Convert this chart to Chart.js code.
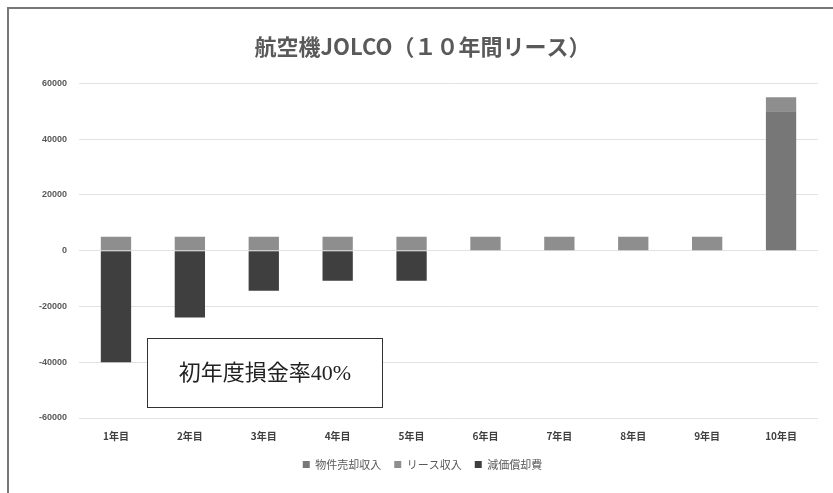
<!DOCTYPE html>
<html>
<head>
<meta charset="utf-8">
<script src="https://cdn.jsdelivr.net/npm/chart.js@4/dist/chart.umd.min.js"></script>
<style>
  html, body { margin: 0; padding: 0; background: #fff; }
  #wrap { position: relative; width: 833px; height: 493px; }
  #frame { position: absolute; left: 7px; top: 7px; right: -10px; bottom: -10px; border-left: 2px solid #777; border-top: 2px solid #777; pointer-events: none; }
</style>
</head>
<body>
<div id="wrap">
  <canvas id="leaseCanvas" width="833" height="493"></canvas>
  <div id="frame"></div>
</div>
<script>
const years = ['1年目', '2年目', '3年目', '4年目', '5年目', '6年目', '7年目', '8年目', '9年目', '10年目'];
const saleIncome = [0, 0, 0, 0, 0, 0, 0, 0, 0, 50000];
const leaseIncome = [5000, 5000, 5000, 5000, 5000, 5000, 5000, 5000, 5000, 5000];
const depreciation = [-40000, -24000, -14400, -10800, -10800, 0, 0, 0, 0, 0];
const noteText = '初年度損金率40%';

// white box with the first-year note, drawn over the plot
const noteBox = {
  id: 'noteBox',
  afterDraw(chart) {
    const ctx = chart.ctx;
    ctx.save();
    ctx.fillStyle = '#ffffff';
    ctx.fillRect(147, 338, 235, 69);
    ctx.strokeStyle = '#333333';
    ctx.lineWidth = 1;
    ctx.strokeRect(147.5, 338.5, 235, 69);
    ctx.fillStyle = '#222222';
    ctx.font = '22px "Liberation Serif", "Noto Sans CJK JP"';
    ctx.textAlign = 'center';
    ctx.textBaseline = 'middle';
    ctx.fillText(noteText, 265, 374);
    ctx.restore();
  }
};

const leaseChart = document.querySelector('#leaseCanvas').getContext('2d');

new Chart(leaseChart, {
  type: 'bar',
  data: {
    labels: years,
    datasets: [
      {
        label: '物件売却収入',
        data: saleIncome,
        backgroundColor: '#777777',
        barPercentage: 0.41,
        categoryPercentage: 1
      },
      {
        label: 'リース収入',
        data: leaseIncome,
        backgroundColor: '#8e8e8e',
        barPercentage: 0.41,
        categoryPercentage: 1
      },
      {
        label: '減価償却費',
        data: depreciation,
        backgroundColor: '#3f3f3f',
        barPercentage: 0.41,
        categoryPercentage: 1
      }
    ]
  },
  options: {
    responsive: false,
    animation: false,
    layout: {
      padding: { left: 27, right: 15, top: 21, bottom: 13 }
    },
    plugins: {
      title: {
        display: true,
        text: '航空機JOLCO（１０年間リース）',
        color: '#595959',
        font: { family: '"Noto Sans CJK JP"', size: 22, weight: 'bold' },
        padding: { top: 12, bottom: 24 }
      },
      legend: {
        display: true,
        position: 'bottom',
        labels: {
          color: '#595959',
          boxWidth: 7,
          boxHeight: 7,
          padding: 13,
          font: { family: '"Noto Sans CJK JP"', size: 11 }
        }
      },
      tooltip: { enabled: false }
    },
    scales: {
      x: {
        stacked: true,
        ticks: {
          color: '#404040',
          font: { family: '"Noto Sans CJK JP"', size: 10, weight: 'bold' },
          padding: 4
        },
        grid: { display: false },
        border: { display: false }
      },
      y: {
        stacked: true,
        min: -60000,
        max: 60000,
        ticks: {
          stepSize: 20000,
          color: '#595959',
          font: { family: '"Liberation Sans"', size: 9, weight: 'bold' },
          padding: 12,
          callback: (value) => String(value)
        },
        grid: { color: '#e2e2e2', drawTicks: false },
        border: { display: false }
      }
    }
  },
  plugins: [noteBox]
});
</script>
</body>
</html>
